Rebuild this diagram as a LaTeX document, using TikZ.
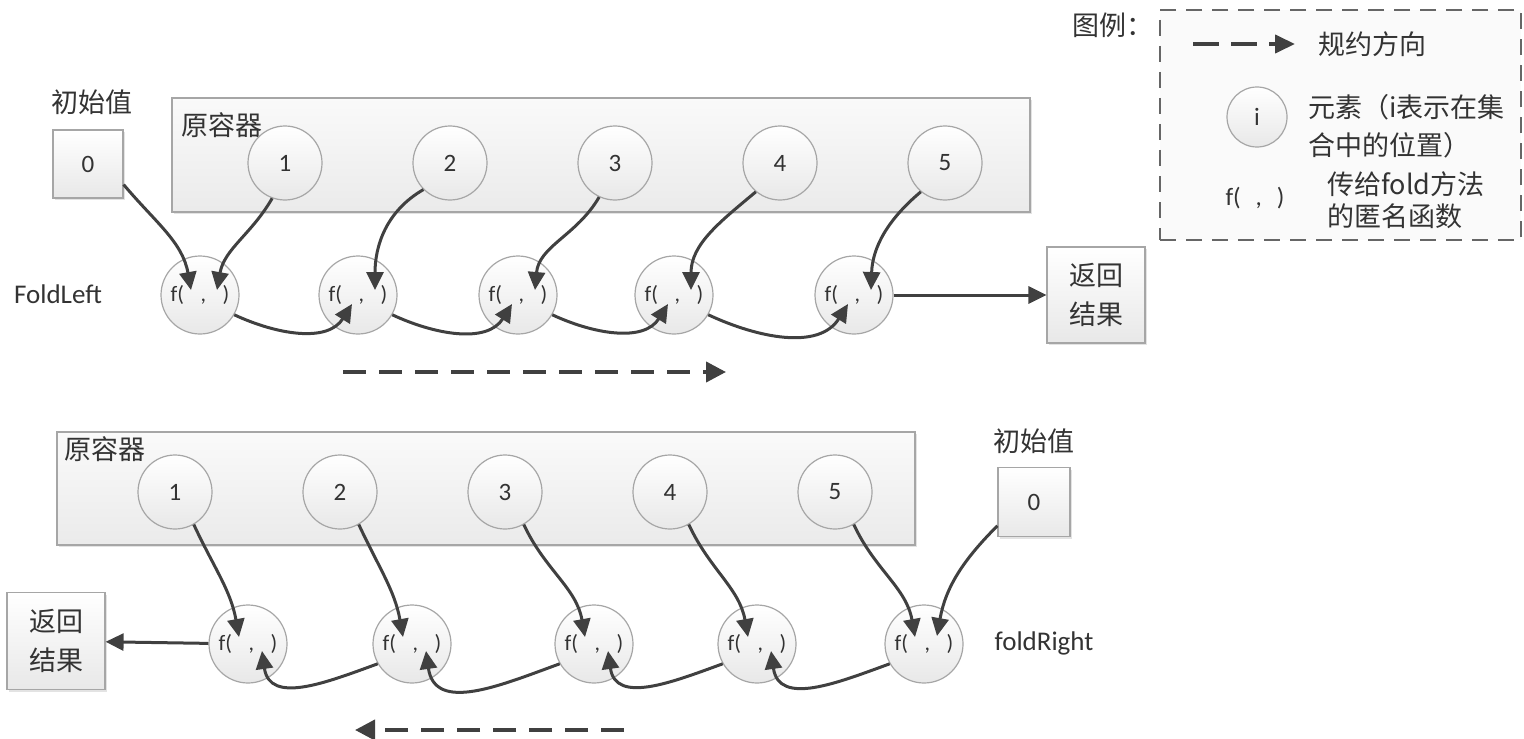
\documentclass[tikz,border=0pt]{standalone}
\usepackage{fontspec}
\setmainfont{Carlito}
\newfontfamily\cjk{Noto Sans CJK SC}
\usetikzlibrary{arrows.meta,calc,shadows}
\definecolor{arr}{HTML}{404040}
\definecolor{edge}{HTML}{A6A6A6}
\definecolor{txt}{HTML}{333333}
\tikzset{
  softshade/.style={top color=white, bottom color=black!9},
  boxshadow/.style={drop shadow={opacity=0.22, shadow xshift=1.2pt, shadow yshift=-1.2pt}},
  valbox/.style={draw=edge, line width=0.6pt, softshade, boxshadow, inner sep=0pt, text=txt},
  container/.style={draw=edge, line width=0.6pt, top color=black!2, bottom color=black!8, boxshadow, inner sep=0pt},
  elem/.style={circle, draw=edge, line width=0.6pt, softshade, minimum size=37pt, inner sep=0pt, text=txt, font=\fontsize{12.5}{15}\selectfont},
  fn/.style={circle, draw=edge, line width=0.6pt, softshade, minimum size=39pt, inner sep=0pt, text=txt, font=\fontsize{11}{14}\selectfont},
  conn/.style={draw=arr, line width=1.5pt, -{Triangle[length=9pt,width=8.5pt]}},
  dirarrow/.style={draw=arr, line width=2pt, dash pattern=on 11.5pt off 6.5pt, -{Triangle[length=10pt,width=10pt]}},
  cjktext/.style={font=\cjk\fontsize{13.5}{19.5}\selectfont, text=txt, inner sep=0pt},
  latintext/.style={font=\fontsize{13.5}{16}\selectfont, text=txt, inner sep=0pt},
}
\newcommand{\fnargs}{f(\hspace{0.75em},\hspace{0.75em})}
\begin{document}
\begin{tikzpicture}[x=0.5pt,y=-0.5pt]
\useasboundingbox (0,0) rectangle (1524,738);

% ---------------- legend ----------------
\node[cjktext] (leglbl) at (1113,25) {图例：};
\node[draw=black!60, line width=1pt, dash pattern=on 8pt off 5pt, fill=black!2, minimum width=180.5pt, minimum height=115pt] (legend) at (1340.5,125) {};
\coordinate (legas) at (1193,44);
\coordinate (legae) at (1295,44);
\draw[draw=arr, line width=2pt, dash pattern=on 13pt off 6pt, -{Triangle[length=10pt,width=9pt]}] (legas) -- (legae);
\node[cjktext] (legdir) at (1372,44) {规约方向};
\node[elem, minimum size=30pt] (legi) at (1257,117) {i};
\node[cjktext, anchor=west, align=left, font=\cjk\fontsize{13.5}{19}\selectfont] (legel) at (1308,126) {元素（i表示在集\\合中的位置）};
\node[latintext, font=\fontsize{12.5}{15}\selectfont] (legf) at (1255,198) {f(\hspace{0.6em},\hspace{0.6em})};
\node[cjktext, anchor=west, align=left, font=\cjk\fontsize{13.5}{16}\selectfont] (legfn) at (1327,200) {传给fold方法\\的匿名函数};

% ---------------- FoldLeft ----------------
\node[cjktext] (tinitlbl) at (92,102) {初始值};
\node[valbox, minimum width=35pt, minimum height=34pt, font=\fontsize{12.5}{15}\selectfont] (tinit) at (88,164) {0};
\node[container, minimum width=429pt, minimum height=57pt] (tcont) at (601,155) {};
\node[cjktext] (tcontlbl) at (222,125) {原容器};
\foreach \i/\x in {1/285,2/450,3/615,4/780,5/945}
  \node[elem] (te\i) at (\x,163) {\i};
\foreach \i/\x in {1/200,2/358,3/518,4/674,5/854}{
  \node[fn] (tf\i) at (\x,295) {\fnargs};
  \coordinate (tf\i-L) at ($(tf\i)+(-9,-5)$);
  \coordinate (tf\i-R) at ($(tf\i)+(17,-5)$);
  \coordinate (tf\i-B) at ($(tf\i)+(-6,9)$);
}
\node[latintext] (tfl) at (58,294) {FoldLeft};
\node[valbox, cjktext, minimum width=49pt, minimum height=48pt, align=center] (tret) at (1096,295) {返回\\结果};
\coordinate (tdirs) at (343,372);
\coordinate (tdire) at (726,372);
\draw[dirarrow] (tdirs) -- (tdire);

\draw[conn] (tinit.-30) to[out=-50,in=100] (tf1-L);
\draw[conn] (te1.-110) to[out=-120,in=80] (tf1-R);
\draw[conn] (te2.-135) to[out=-150,in=90] (tf2-R);
\draw[conn] (te3.-115) to[out=-120,in=85] (tf3-R);
\draw[conn] (te4.-130) to[out=-140,in=90] (tf4-R);
\draw[conn] (te5.-130) to[out=-140,in=88] (tf5-R);
\foreach \a/\b in {1/2,2/3,3/4,4/5}
  \draw[conn] (tf\a.-30) to[out=-25,in=-122] (tf\b-B);
\draw[conn] (tf5) -- (tret);

% ---------------- foldRight ----------------
\node[container, minimum width=429pt, minimum height=56.5pt] (bcont) at (486,488.5) {};
\node[cjktext] (bcontlbl) at (105,449) {原容器};
\foreach \i/\x in {1/175,2/340,3/505,4/670,5/835}
  \node[elem] (be\i) at (\x,492) {\i};
\node[cjktext] (binitlbl) at (1034,441) {初始值};
\node[valbox, minimum width=36pt, minimum height=34.5pt, font=\fontsize{12.5}{15}\selectfont] (binit) at (1034,502) {0};
\foreach \i/\x in {1/248,2/412,3/594,4/757,5/924}{
  \node[fn] (bf\i) at (\x,644) {\fnargs};
  \coordinate (bf\i-L) at ($(bf\i)+(-9,-7)$);
  \coordinate (bf\i-R) at ($(bf\i)+(13,-8)$);
  \coordinate (bf\i-B) at ($(bf\i)+(14,7)$);
}
\node[latintext] (bfr) at (1044,643) {foldRight};
\node[valbox, cjktext, minimum width=49pt, minimum height=48.5pt, align=center] (bret) at (56,641) {返回\\结果};
\coordinate (bdirs) at (624,730);
\coordinate (bdire) at (355,730);
\draw[dirarrow] (bdirs) -- (bdire);

\foreach \i in {1,...,5}
  \draw[conn] (be\i.-60) to[out=-65,in=100] (bf\i-L);
\draw[conn] (binit.-147) to[out=-135,in=80] (bf5-R);
\foreach \a/\b in {1/2,2/3,3/4,4/5}
  \draw[conn] (bf\b.-150) to[out=-160,in=-82, looseness=1.2] (bf\a-B);
\draw[conn] (bf1) -- (bret);
\end{tikzpicture}
\end{document}
